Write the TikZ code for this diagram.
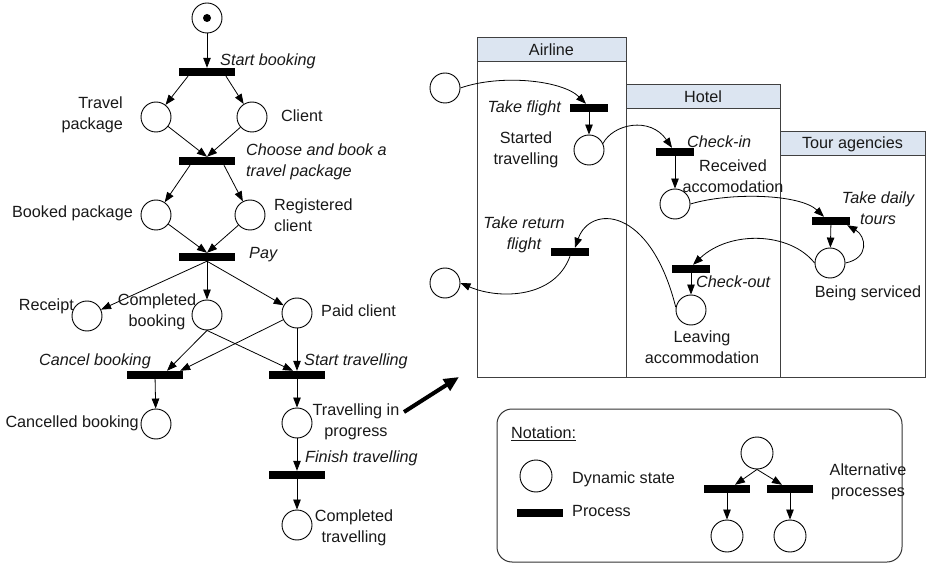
\documentclass[tikz,border=0pt]{standalone}
\usepackage{fontspec}
\setmainfont{Liberation Sans}
\usetikzlibrary{arrows.meta}
\definecolor{headfill}{HTML}{DCE5F1}
\begin{document}
\begin{tikzpicture}[x=1pt,y=1pt,
  font=\fontsize{16.2}{21}\selectfont,
  place/.style={circle,draw,line width=0.9pt,minimum size=30pt,inner sep=0pt,fill=white},
  trans/.style={rectangle,fill=black,minimum width=56pt,minimum height=8pt,inner sep=0pt},
  stran/.style={trans,minimum width=38pt},
  ntran/.style={trans,minimum width=46pt},
  arc/.style={line width=0.8pt,-{Triangle[length=10pt,width=7.5pt]}},
  lbl/.style={inner sep=0pt,text=black!90},
  act/.style={lbl,font=\fontsize{16.2}{21}\selectfont\itshape},
  lanehead/.style={draw=black!75,line width=1pt,fill=headfill,inner sep=0pt,text=black!90},
  lane/.style={draw=black!75,line width=1pt},
]
\useasboundingbox (0,0) rectangle (927,-564);

% ---------------- booking net ----------------
\node[place] (s0) at (207,-18) {};
\fill (s0.center) circle (4pt);
\node[trans] (tsb) at (207,-72) {};
\node[place] (tp) at (156,-117) {};
\node[place] (tc) at (252,-117) {};
\node[trans] (tcb) at (207,-161) {};
\node[place] (bp) at (156,-215) {};
\node[place] (rcl) at (250,-215) {};
\node[trans] (tpay) at (207,-257) {};
\node[place] (rc) at (87,-316) {};
\node[place] (cb) at (207,-315) {};
\node[place] (pc) at (297,-313) {};
\node[trans] (tcan) at (155,-375) {};
\node[trans] (tst) at (297,-375) {};
\node[place] (cbk) at (156,-424) {};
\node[place] (tip) at (297,-423) {};
\node[trans] (tft) at (297,-475) {};
\node[place] (ctr) at (297,-525) {};

\draw[arc] (s0) -- (tsb);
\draw[arc] ([xshift=-19pt]tsb.south) -- (tp);
\draw[arc] ([xshift=19pt]tsb.south) -- (tc);
\draw[arc] (tp) -- (tcb.north);
\draw[arc] (tc) -- (tcb.north);
\draw[arc] ([xshift=-17pt]tcb.south) -- (bp);
\draw[arc] ([xshift=17pt]tcb.south) -- (rcl);
\draw[arc] (bp) -- (tpay.north);
\draw[arc] (rcl) -- (tpay.north);
\draw[arc] (tpay.south) -- (rc);
\draw[arc] (tpay.south) -- (cb);
\draw[arc] (tpay.south) -- (pc);
\draw[arc] (cb.south) -- ([xshift=12pt]tcan.north);
\draw[arc] (pc) -- ([xshift=-3pt]tcan.north east);
\draw[arc] (cb.south) -- ([xshift=-4pt]tst.north);
\draw[arc] (pc) -- (tst);
\draw[arc] (tcan) -- (cbk);
\draw[arc] (tst) -- (tip);
\draw[arc] (tip) -- (tft);
\draw[arc] (tft) -- (ctr);

\node[act,anchor=west] (lsb) at (220,-61) {Start booking};
\node[lbl,anchor=east,align=right] (ltp) at (123,-115) {Travel\\package};
\node[lbl,anchor=west] (ltc) at (281,-116) {Client};
\node[act,anchor=west,align=left] (lcb) at (246,-162) {Choose and book a\\travel package};
\node[lbl,anchor=east] (lbp) at (133,-213) {Booked package};
\node[lbl,anchor=west,align=left] (lrc) at (274,-215) {Registered\\client};
\node[act,anchor=west] (lpay) at (249,-255) {Pay};
\node[lbl,anchor=east] (lrec) at (74,-306) {Receipt};
\node[lbl,align=center] (lcmp) at (157,-312) {Completed\\booking};
\node[lbl,anchor=west] (lpc) at (321,-311) {Paid client};
\node[act,anchor=east] (lcan) at (151,-361) {Cancel booking};
\node[act,anchor=west] (lst) at (304,-361) {Start travelling};
\node[lbl,anchor=east] (lcbk) at (139,-423) {Cancelled booking};
\node[lbl,align=center] (ltip) at (356,-422) {Travelling in\\progress};
\node[act,anchor=west] (lft) at (305,-458) {Finish travelling};
\node[lbl,align=center] (lctr) at (354,-528) {Completed\\travelling};

% pointer to the swimlane view
\coordinate (zs) at (404,-412);
\coordinate (ze) at (459,-377);
\draw[line width=4pt,-{Triangle[length=15pt,width=13pt]}] (zs) -- (ze);

% ---------------- swimlanes ----------------
\draw[lane] (477,-38) rectangle (626,-377);
\draw[lane] (626,-85) rectangle (780,-377);
\draw[lane] (780,-132) rectangle (925,-377);
\node[lanehead,minimum width=149pt,minimum height=24pt] (hair) at (551.5,-50) {Airline};
\node[lanehead,minimum width=154pt,minimum height=24pt] (hhot) at (703,-97) {Hotel};
\node[lanehead,minimum width=145pt,minimum height=24pt] (htour) at (852.5,-144) {Tour agencies};

\node[place] (a0) at (445,-88) {};
\node[stran] (tf) at (589,-108) {};
\node[place] (st) at (589,-150) {};
\node[stran] (ci) at (675,-152) {};
\node[place] (ra) at (675,-204) {};
\node[stran] (td) at (831,-221) {};
\node[place] (bs) at (830,-263) {};
\node[stran] (co) at (691,-269) {};
\node[place] (la) at (691,-310) {};
\node[stran] (trf) at (570,-252) {};
\node[place] (b0) at (445,-283) {};

\draw[arc] (a0.east) .. controls (500,-74) and (562,-80) .. ([xshift=-3pt]tf.north);
\draw[arc] (tf) -- (st);
\draw[arc] (st.25) .. controls (613,-124) and (650,-116) .. ([xshift=-3pt]ci.north);
\draw[arc] (ci) -- (ra);
\draw[arc] (ra.east) .. controls (730,-192) and (800,-194) .. ([xshift=-7pt]td.north);
\draw[arc] (td) -- (bs);
\draw[arc] (bs.east) .. controls (870,-258) and (866,-236) .. ([xshift=-3pt]td.south east);
\draw[arc] (bs.west) .. controls (790,-232) and (730,-230) .. ([xshift=2pt]co.north);
\draw[arc] (co) -- (la);
\draw[arc] (la.170) .. controls (650,-205) and (590,-205) .. ([xshift=5pt]trf.north);
\draw[arc] (trf.south) .. controls (555,-298) and (500,-300) .. (b0.east);

\node[act,anchor=east] (ltf) at (561,-108) {Take flight};
\node[lbl,align=center] (lst2) at (526,-150) {Started\\travelling};
\node[act,anchor=west] (lci) at (687,-142) {Check-in};
\node[lbl,align=center] (lra) at (733,-176) {Received\\accomodation};
\node[act,align=center] (ltd) at (878,-208) {Take daily\\tours};
\node[lbl] (lbs) at (868,-293) {Being serviced};
\node[act,anchor=west] (lco) at (696,-282) {Check-out};
\node[lbl,align=center] (lla) at (702,-347) {Leaving\\accommodation};
\node[act,align=center] (ltrf) at (524,-235) {Take return\\flight};

% ---------------- notation ----------------
\node[draw=black!80,line width=1pt,rounded corners=15pt,minimum width=405pt,minimum height=153pt] (notation) at (699.5,-485.5) {};
\node[lbl,anchor=west] (nttl) at (511,-434) {\underline{Notation:}};
\node[place,minimum size=32pt] (nds) at (536,-476) {};
\node[lbl,anchor=west] (ndsl) at (572,-479) {Dynamic state};
\node[ntran] (npr) at (540,-513) {};
\node[lbl,anchor=west] (nprl) at (572,-511) {Process};
\node[place,minimum size=32pt] (nt) at (757,-453) {};
\node[ntran] (nb1) at (727,-489) {};
\node[ntran] (nb2) at (790,-489) {};
\node[place,minimum size=32pt] (nc1) at (727,-536) {};
\node[place,minimum size=32pt] (nc2) at (790,-536) {};
\draw[arc] (nt.south) -- ([xshift=8pt]nb1.north);
\draw[arc] (nt.south) -- ([xshift=-8pt]nb2.north);
\draw[arc] (nb1) -- (nc1);
\draw[arc] (nb2) -- (nc2);
\node[lbl,align=center] (nalt) at (868,-482) {Alternative\\processes};
\end{tikzpicture}
\end{document}
